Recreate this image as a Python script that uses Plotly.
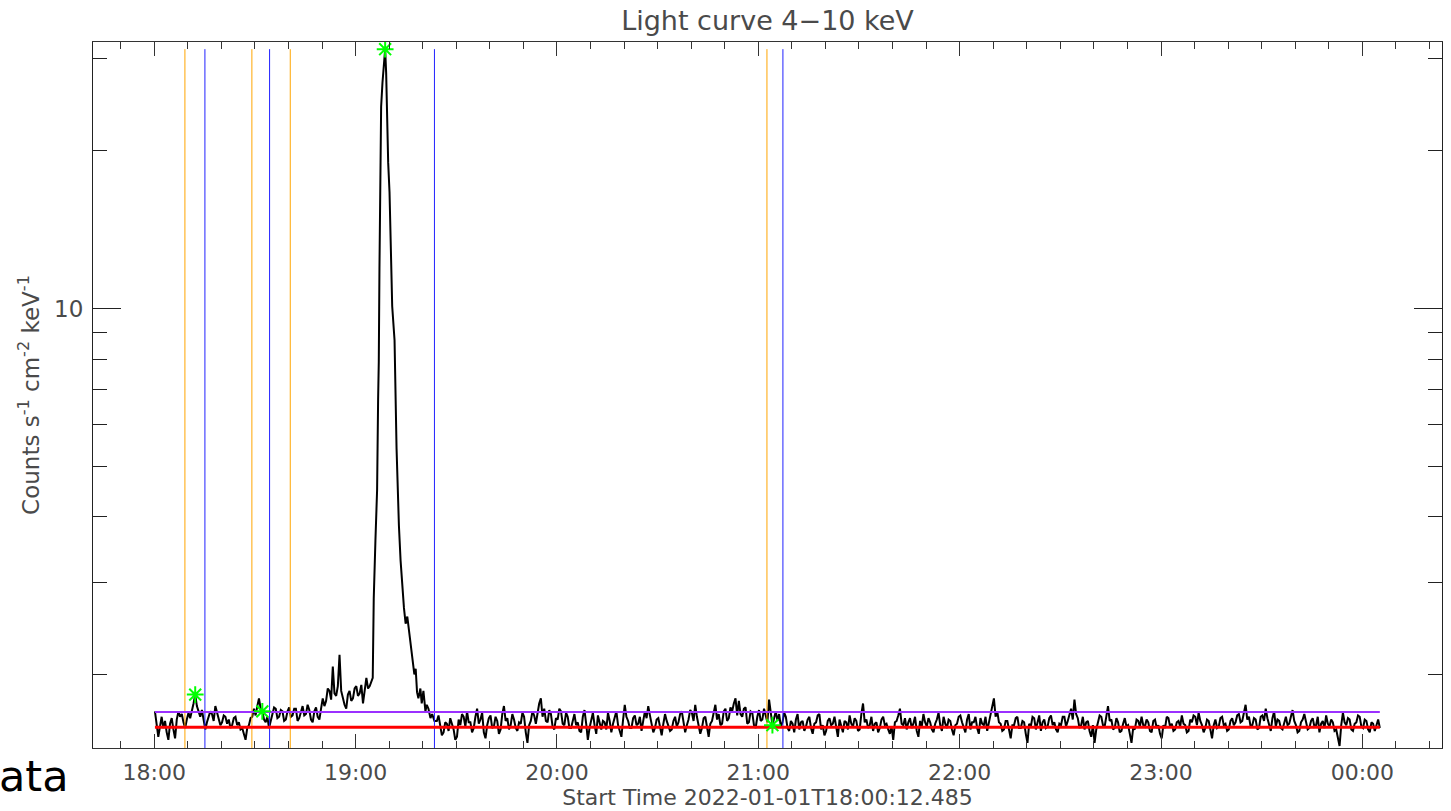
import numpy as np
import pandas as pd
import plotly.graph_objects as go

START = pd.Timestamp("2022-01-01 18:00:12.485")

# Count rate (counts s^-1 cm^-2 keV^-1), 30-second samples, minutes 0..64
flux_pre = [
    1.70, 1.62, 1.52, 1.59, 1.66, 1.58, 1.63, 1.55, 1.50, 1.61, 1.65, 1.57, 1.51, 1.64, 1.70, 1.66, 1.68, 1.62, 1.58, 1.64,
    1.69, 1.65, 1.72, 1.76, 1.83, 1.74, 1.70, 1.66, 1.71, 1.64, 1.57, 1.62, 1.66, 1.70, 1.68, 1.63, 1.74, 1.69, 1.64, 1.60,
    1.62, 1.67, 1.66, 1.61, 1.64, 1.58, 1.60, 1.65, 1.66, 1.60, 1.62, 1.57, 1.58, 1.54, 1.50, 1.58, 1.60, 1.65, 1.66, 1.72,
    1.67, 1.74, 1.80, 1.72, 1.70, 1.64, 1.62, 1.66, 1.58, 1.63, 1.69, 1.73, 1.72, 1.65, 1.66, 1.71, 1.70, 1.63, 1.64, 1.70,
    1.73, 1.66, 1.67, 1.72, 1.72, 1.63, 1.65, 1.70, 1.74, 1.67, 1.68, 1.75, 1.71, 1.64, 1.62, 1.70, 1.73, 1.66, 1.64, 1.72,
    1.80, 1.74, 1.78, 1.88, 1.86, 1.79, 2.07, 1.84, 1.82, 1.90, 2.18, 1.86, 1.80, 1.75, 1.72, 1.83, 1.86, 1.78, 1.80, 1.88,
    1.90, 1.82, 1.84, 1.91, 1.76, 1.85, 1.97, 1.88, 1.90,
]

# Flare, finer sampling (minutes after start)
flare_min = [
    64.9, 65.2, 65.7, 66.2, 66.5, 66.7, 66.9, 67.2, 67.4, 67.8,
    68.2, 68.6, 68.9, 69.2, 69.5, 69.9, 70.2, 70.7, 71.4, 71.7,
    72.0, 72.7, 73.2, 74.2, 74.7, 75.2, 75.6, 76.1, 76.7, 77.3,
    77.7, 78.1, 78.5, 79.1, 79.5, 80.0, 80.3, 80.6, 81.0, 81.5,
    82.1, 82.6, 83.3,
]
flare_flux = [
    1.97, 2.79, 3.60, 4.50, 6.70, 7.90, 11.9, 17.4, 24.3, 27.0,
    29.9, 31.3, 28.2, 22.6, 19.0, 16.7, 13.6, 10.1, 8.70, 6.70,
    5.40, 3.85, 3.30, 2.68, 2.50, 2.58, 2.45, 2.35, 2.15, 2.00,
    2.05, 1.85, 1.80, 1.88, 1.76, 1.86, 1.78, 1.70, 1.75, 1.72,
    1.65, 1.68, 1.63,
]

# 30-second samples, minutes 84..365
flux_post = [
    1.63, 1.67, 1.58, 1.53, 1.55, 1.62, 1.61, 1.56, 1.65, 1.60, 1.57, 1.50, 1.52, 1.64, 1.60, 1.68, 1.66, 1.59, 1.70, 1.62,
    1.62, 1.55, 1.58, 1.66, 1.72, 1.61, 1.64, 1.69, 1.55, 1.51, 1.60, 1.65, 1.67, 1.58, 1.59, 1.66, 1.63, 1.54, 1.57, 1.68,
    1.74, 1.63, 1.65, 1.57, 1.60, 1.68, 1.64, 1.58, 1.56, 1.62, 1.61, 1.69, 1.66, 1.55, 1.48, 1.60, 1.63, 1.70, 1.67, 1.61,
    1.70, 1.76, 1.80, 1.66, 1.72, 1.63, 1.62, 1.71, 1.68, 1.59, 1.57, 1.65, 1.64, 1.72, 1.70, 1.61, 1.60, 1.69, 1.66, 1.58,
    1.58, 1.64, 1.68, 1.60, 1.62, 1.56, 1.55, 1.66, 1.71, 1.61, 1.50, 1.58, 1.64, 1.69, 1.60, 1.54, 1.67, 1.62, 1.57, 1.63,
    1.62, 1.57, 1.69, 1.63, 1.55, 1.61, 1.66, 1.70, 1.60, 1.56, 1.52, 1.64, 1.75, 1.66, 1.63, 1.58, 1.58, 1.65, 1.67, 1.60,
    1.61, 1.66, 1.56, 1.63, 1.70, 1.65, 1.74, 1.67, 1.62, 1.55, 1.58, 1.64, 1.65, 1.59, 1.53, 1.61, 1.68, 1.63, 1.60, 1.56,
    1.57, 1.63, 1.66, 1.59, 1.62, 1.68, 1.70, 1.61, 1.55, 1.60, 1.64, 1.71, 1.69, 1.63, 1.75, 1.66, 1.60, 1.54, 1.58, 1.65,
    1.66, 1.58, 1.52, 1.61, 1.63, 1.69, 1.75, 1.64, 1.68, 1.60, 1.61, 1.70, 1.72, 1.63, 1.65, 1.73, 1.70, 1.76, 1.80, 1.67,
    1.78, 1.68, 1.66, 1.72, 1.73, 1.61, 1.62, 1.70, 1.69, 1.60, 1.58, 1.66, 1.71, 1.63, 1.64, 1.72, 1.67, 1.62, 1.79, 1.68,
    1.60, 1.65, 1.70, 1.63, 1.68, 1.59, 1.62, 1.69, 1.66, 1.58, 1.56, 1.63, 1.61, 1.55, 1.64, 1.68, 1.57, 1.62, 1.63, 1.56,
    1.59, 1.64, 1.66, 1.58, 1.54, 1.61, 1.62, 1.67, 1.68, 1.57, 1.60, 1.53, 1.56, 1.63, 1.65, 1.60, 1.61, 1.66, 1.58, 1.52,
    1.64, 1.59, 1.55, 1.63, 1.62, 1.57, 1.67, 1.61, 1.59, 1.65, 1.63, 1.56, 1.57, 1.68, 1.76, 1.62, 1.64, 1.58, 1.60, 1.66,
    1.56, 1.61, 1.62, 1.55, 1.58, 1.64, 1.66, 1.60, 1.61, 1.57, 1.54, 1.59, 1.50, 1.62, 1.63, 1.67, 1.72, 1.61, 1.60, 1.65,
    1.57, 1.62, 1.65, 1.58, 1.61, 1.66, 1.56, 1.52, 1.63, 1.59, 1.68, 1.62, 1.59, 1.65, 1.62, 1.57, 1.55, 1.61, 1.64, 1.69,
    1.60, 1.56, 1.66, 1.61, 1.58, 1.64, 1.63, 1.57, 1.53, 1.60, 1.61, 1.66, 1.67, 1.62, 1.59, 1.55, 1.64, 1.68, 1.57, 1.62,
    1.62, 1.66, 1.58, 1.54, 1.65, 1.61, 1.60, 1.66, 1.56, 1.62, 1.68, 1.73, 1.80, 1.66, 1.70, 1.62, 1.61, 1.56, 1.57, 1.63,
    1.63, 1.57, 1.51, 1.60, 1.60, 1.65, 1.66, 1.58, 1.58, 1.63, 1.62, 1.54, 1.48, 1.61, 1.59, 1.66, 1.65, 1.57, 1.61, 1.67,
    1.56, 1.62, 1.64, 1.58, 1.59, 1.65, 1.67, 1.60, 1.62, 1.57, 1.55, 1.61, 1.60, 1.66, 1.66, 1.59, 1.63, 1.68, 1.72, 1.64,
    1.79, 1.68, 1.65, 1.58, 1.60, 1.66, 1.57, 1.62, 1.63, 1.56, 1.52, 1.60, 1.48, 1.57, 1.61, 1.67, 1.66, 1.60, 1.59, 1.65,
    1.74, 1.63, 1.64, 1.57, 1.58, 1.65, 1.62, 1.55, 1.56, 1.61, 1.65, 1.59, 1.60, 1.54, 1.48, 1.58, 1.57, 1.64, 1.63, 1.59,
    1.66, 1.60, 1.59, 1.64, 1.62, 1.56, 1.55, 1.63, 1.64, 1.58, 1.60, 1.54, 1.51, 1.60, 1.58, 1.66, 1.65, 1.59, 1.61, 1.56,
    1.57, 1.62, 1.63, 1.59, 1.67, 1.61, 1.60, 1.55, 1.56, 1.64, 1.62, 1.67, 1.66, 1.60, 1.69, 1.63, 1.60, 1.55, 1.58, 1.64,
    1.63, 1.57, 1.51, 1.60, 1.64, 1.58, 1.59, 1.65, 1.66, 1.60, 1.61, 1.56, 1.57, 1.63, 1.65, 1.60, 1.62, 1.67, 1.68, 1.62,
    1.63, 1.69, 1.75, 1.64, 1.66, 1.59, 1.60, 1.65, 1.64, 1.57, 1.58, 1.66, 1.67, 1.63, 1.72, 1.65, 1.61, 1.56, 1.65, 1.70,
    1.59, 1.64, 1.63, 1.58, 1.57, 1.62, 1.66, 1.60, 1.61, 1.66, 1.71, 1.63, 1.60, 1.55, 1.56, 1.62, 1.64, 1.68, 1.62, 1.57,
    1.58, 1.63, 1.65, 1.59, 1.60, 1.66, 1.55, 1.61, 1.63, 1.58, 1.67, 1.61, 1.59, 1.64, 1.62, 1.56, 1.57, 1.52, 1.46, 1.60,
    1.69, 1.62, 1.60, 1.65, 1.64, 1.57, 1.56, 1.61, 1.62, 1.67, 1.66, 1.59, 1.58, 1.64, 1.63, 1.57, 1.55, 1.62, 1.61, 1.56,
    1.60, 1.64, 1.58,
]

# Flare interval boundaries (minutes after start)
start_marks = [8.93, 28.89, 40.32, 182.37]
end_marks = [14.89, 34.16, 83.29, 187.13]

# Detected peaks (minutes after start)
peak_minutes = [12.0, 32.0, 68.6, 184.0]

# Threshold levels
level_purple = 1.695
level_red = 1.585

minutes = np.concatenate([
    np.arange(len(flux_pre)) * 0.5,
    flare_min,
    84 + np.arange(len(flux_post)) * 0.5,
])
flux = np.concatenate([flux_pre, flare_flux, flux_post])
times = START + pd.to_timedelta(minutes, unit="min")

peak_idx = [int(np.argmin(np.abs(minutes - m))) for m in peak_minutes]
peak_t = times[peak_idx]
peak_f = flux[peak_idx]

y_lo, y_hi = 1.447, 32.3
x_lo = pd.Timestamp("2022-01-01 17:41:45")
x_hi = pd.Timestamp("2022-01-02 00:23:44")

TXT = "#4a4a4a"
FONT = "DejaVu Sans"

fig = go.Figure()

fig.add_trace(go.Scatter(x=times, y=flux, mode="lines",
                         line=dict(color="black", width=2), hoverinfo="skip"))

fmax = float(np.max(flux))
for m in start_marks:
    t = START + pd.to_timedelta(m, unit="min")
    fig.add_trace(go.Scatter(x=[t, t], y=[y_lo, fmax], mode="lines",
                             line=dict(color="#FFA500", width=1)))
for m in end_marks:
    t = START + pd.to_timedelta(m, unit="min")
    fig.add_trace(go.Scatter(x=[t, t], y=[y_lo, fmax], mode="lines",
                             line=dict(color="#2020FF", width=1)))

fig.add_trace(go.Scatter(x=[times[0], times[-1]], y=[level_purple, level_purple],
                         mode="lines", line=dict(color="#9B30FF", width=2)))
fig.add_trace(go.Scatter(x=[times[0], times[-1]], y=[level_red, level_red],
                         mode="lines", line=dict(color="#FF0000", width=3)))

fig.add_trace(go.Scatter(x=peak_t, y=peak_f, mode="markers",
                         marker=dict(symbol="asterisk-open", size=14, color="#00FF00",
                                     line=dict(color="#00FF00", width=2))))

fig.update_layout(
    width=1451, height=811,
    margin=dict(l=93, r=8, t=42, b=61),
    paper_bgcolor="white", plot_bgcolor="white",
    showlegend=False,
    font=dict(family=FONT, color=TXT, size=20),
    title=dict(text="Light curve 4−10 keV", xref="paper", x=0.5, xanchor="center",
               y=1 - 21 / 811, yanchor="middle",
               font=dict(family=FONT, size=27, color=TXT)),
)

fig.update_xaxes(
    type="date", range=[x_lo, x_hi],
    tickvals=[pd.Timestamp("2022-01-01 18:00") + pd.Timedelta(hours=h) for h in range(7)],
    tickformat="%H:%M",
    ticks="inside", ticklen=14, tickcolor="#333", tickwidth=1,
    minor=dict(dtick=600000, tick0="2022-01-01 18:00:00", ticks="inside",
               ticklen=7, tickcolor="#333", tickwidth=1, showgrid=False),
    mirror="allticks", showline=True, linecolor="#333", linewidth=1,
    showgrid=False, zeroline=False,
    tickfont=dict(family=FONT, size=22, color=TXT),
    ticklabelstandoff=5,
    title=dict(text="Start Time 2022-01-01T18:00:12.485",
               font=dict(family=FONT, size=22, color=TXT), standoff=2),
)

fig.update_yaxes(
    type="log", range=[np.log10(y_lo), np.log10(y_hi)],
    tickvals=[10], ticktext=["10"],
    ticks="inside", ticklen=28, tickcolor="#222", tickwidth=1,
    minor=dict(tickvals=[2, 3, 4, 5, 6, 7, 8, 9, 20, 30], ticks="inside",
               ticklen=14, tickcolor="#222", tickwidth=1, showgrid=False),
    mirror="allticks", showline=True, linecolor="#222", linewidth=1,
    showgrid=False, zeroline=False,
    tickfont=dict(family=FONT, size=23, color=TXT),
    ticklabelstandoff=4,
    title=dict(text="Counts s<sup>-1</sup> cm<sup>-2</sup> keV<sup>-1</sup>",
               font=dict(family=FONT, size=23, color=TXT), standoff=8),
)

fig.add_annotation(text="ata", xref="paper", yref="paper",
                   x=(-3 - 93) / 1350, y=(750 - 778) / 708,
                   xanchor="left", yanchor="middle", showarrow=False,
                   font=dict(family=FONT, size=43, color="black"))

fig.write_html("out.html")
